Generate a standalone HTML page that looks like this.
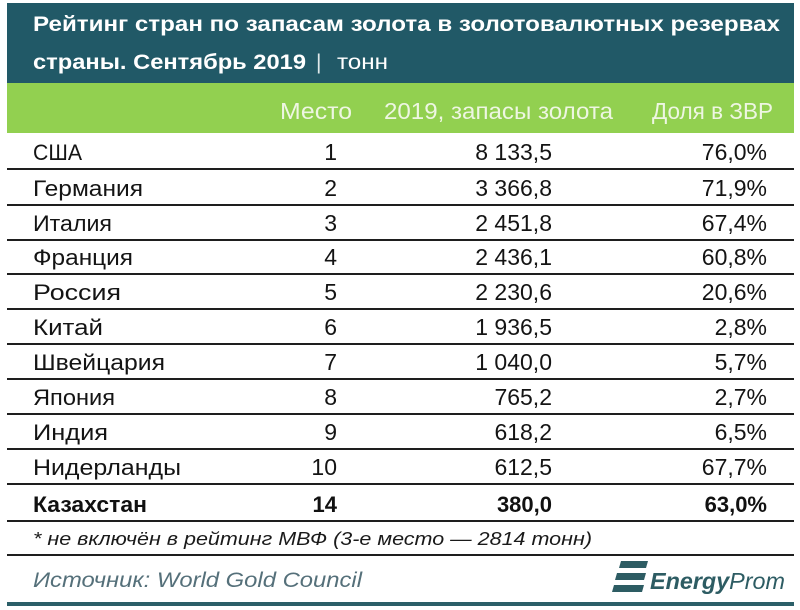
<!DOCTYPE html>
<html><head><meta charset="utf-8"><style>
html,body{margin:0;padding:0;background:#fff;}
svg{display:block;}
text{font-family:"Liberation Sans","DejaVu Sans",sans-serif;}
</style></head><body>
<svg width="800" height="610" viewBox="0 0 800 610" xmlns="http://www.w3.org/2000/svg">
<rect x="0" y="0" width="800" height="610" fill="#fff"/>
<rect x="7" y="3" width="787" height="80" fill="#215967"/>
<rect x="7" y="83" width="787" height="50" fill="#92d050"/>
<text x="33" y="31" font-size="21" font-weight="bold" fill="#fff" textLength="747" lengthAdjust="spacingAndGlyphs">Рейтинг стран по запасам золота в золотовалютных резервах</text>
<text x="33" y="69" font-size="21" font-weight="bold" fill="#fff" textLength="273" lengthAdjust="spacingAndGlyphs">страны. Сентябрь 2019</text>
<text x="316" y="69" font-size="21" fill="#dfe9ea">|</text>
<text x="337" y="69" font-size="21" fill="#fff" textLength="51" lengthAdjust="spacingAndGlyphs">тонн</text>
<g font-size="23" fill="#eef6e2">
<text x="280" y="119" textLength="72" lengthAdjust="spacingAndGlyphs">Место</text>
<text x="384" y="119" textLength="229" lengthAdjust="spacingAndGlyphs">2019, запасы золота</text>
<text x="652" y="119" textLength="121" lengthAdjust="spacingAndGlyphs">Доля в ЗВР</text>
</g>
<g stroke="#1e1e1e" stroke-width="2">
<line x1="7" y1="169" x2="794" y2="169"/>
<line x1="7" y1="205" x2="794" y2="205"/>
<line x1="7" y1="240" x2="794" y2="240"/>
<line x1="7" y1="274" x2="794" y2="274"/>
<line x1="7" y1="309" x2="794" y2="309"/>
<line x1="7" y1="344" x2="794" y2="344"/>
<line x1="7" y1="379" x2="794" y2="379"/>
<line x1="7" y1="414" x2="794" y2="414"/>
<line x1="7" y1="449" x2="794" y2="449"/>
<line x1="7" y1="484" x2="794" y2="484"/>
<line x1="7" y1="521" x2="794" y2="521"/>
<line x1="7" y1="555" x2="794" y2="555"/>
</g>
<g font-size="22" fill="#141414">
<text x="33" y="160" textLength="49" lengthAdjust="spacingAndGlyphs">США</text>
<text x="33" y="196" textLength="110" lengthAdjust="spacingAndGlyphs">Германия</text>
<text x="33" y="231" textLength="79" lengthAdjust="spacingAndGlyphs">Италия</text>
<text x="33" y="265" textLength="100" lengthAdjust="spacingAndGlyphs">Франция</text>
<text x="33" y="300" textLength="88" lengthAdjust="spacingAndGlyphs">Россия</text>
<text x="33" y="335" textLength="70" lengthAdjust="spacingAndGlyphs">Китай</text>
<text x="33" y="370" textLength="132" lengthAdjust="spacingAndGlyphs">Швейцария</text>
<text x="33" y="405" textLength="82" lengthAdjust="spacingAndGlyphs">Япония</text>
<text x="33" y="440" textLength="75" lengthAdjust="spacingAndGlyphs">Индия</text>
<text x="33" y="475" textLength="148" lengthAdjust="spacingAndGlyphs">Нидерланды</text>
</g>
<g font-size="23" fill="#141414" text-anchor="end">
<text x="337" y="160">1</text><text x="552" y="160">8 133,5</text><text x="767" y="160">76,0%</text>
<text x="337" y="196">2</text><text x="552" y="196">3 366,8</text><text x="767" y="196">71,9%</text>
<text x="337" y="231">3</text><text x="552" y="231">2 451,8</text><text x="767" y="231">67,4%</text>
<text x="337" y="265">4</text><text x="552" y="265">2 436,1</text><text x="767" y="265">60,8%</text>
<text x="337" y="300">5</text><text x="552" y="300">2 230,6</text><text x="767" y="300">20,6%</text>
<text x="337" y="335">6</text><text x="552" y="335">1 936,5</text><text x="767" y="335">2,8%</text>
<text x="337" y="370">7</text><text x="552" y="370">1 040,0</text><text x="767" y="370">5,7%</text>
<text x="337" y="405">8</text><text x="552" y="405">765,2</text><text x="767" y="405">2,7%</text>
<text x="337" y="440">9</text><text x="552" y="440">618,2</text><text x="767" y="440">6,5%</text>
<text x="337" y="475">10</text><text x="552" y="475">612,5</text><text x="767" y="475">67,7%</text>
</g>
<g font-size="22" font-weight="bold" fill="#111">
<text x="33" y="512" textLength="114" lengthAdjust="spacingAndGlyphs">Казахстан</text>
<text x="337" y="512" text-anchor="end">14</text>
<text x="552" y="512" text-anchor="end">380,0</text>
<text x="767" y="512" text-anchor="end">63,0%</text>
</g>
<text x="33" y="545" font-size="18" font-style="italic" fill="#1a1a1a" textLength="559" lengthAdjust="spacingAndGlyphs">* не включён в рейтинг МВФ (3-е место — 2814 тонн)</text>
<text x="33" y="587" font-size="21" font-style="italic" fill="#55707a" textLength="329" lengthAdjust="spacingAndGlyphs">Источник: World Gold Council</text>
<g fill="#2d5c63">
<polygon points="621,561 648,561 646,568 619,568"/>
<polygon points="617,573 646,573 644,580 615,580"/>
<polygon points="614,585 644,585 642,592 612,592"/>
</g>
<text x="650" y="589" font-size="23" font-style="italic" fill="#2d5c63" textLength="135" lengthAdjust="spacingAndGlyphs"><tspan font-weight="bold">Energy</tspan>Prom</text>
<rect x="7" y="602" width="787" height="4" fill="#2b5f68"/>
</svg>
</body></html>
